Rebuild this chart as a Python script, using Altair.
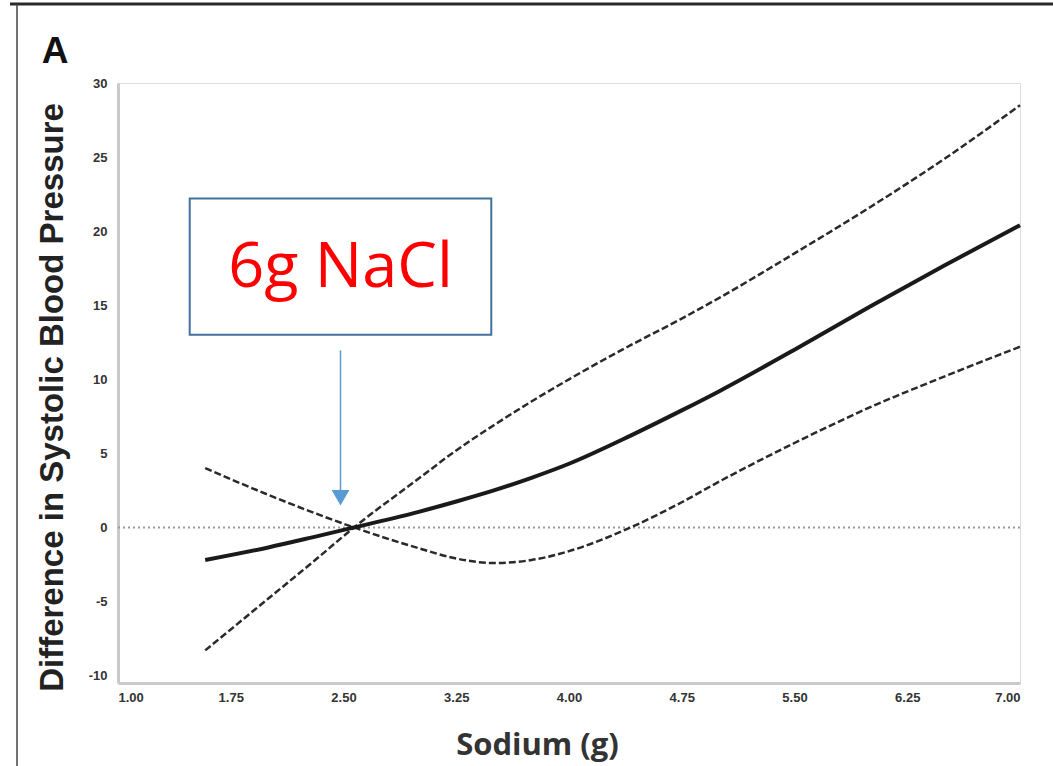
import altair as alt
import pandas as pd

# ---- data ----
sodium = [1.58, 2.0, 2.3, 2.57, 3.0, 3.25, 3.5, 3.75, 4.0, 4.41, 4.75, 5.0, 5.5, 6.0, 6.5, 7.0]
estimate = [-2.2, -1.35, -0.65, 0.0, 1.05, 1.75, 2.5, 3.35, 4.3, 6.2, 7.9, 9.2, 12.0, 14.9, 17.7, 20.4]
upper_ci = [-8.3, -4.8, -2.3, 0.0, 3.3, 5.2, 6.9, 8.5, 10.0, 12.3, 14.1, 15.5, 18.5, 21.6, 24.9, 28.5]
lower_ci = [4.0, 2.2, 1.0, 0.0, -1.4, -2.1, -2.4, -2.2, -1.6, 0.0, 1.7, 3.1, 5.7, 8.1, 10.2, 12.2]

x_ticks = [1.00, 1.75, 2.50, 3.25, 4.00, 4.75, 5.50, 6.25, 7.00]
y_ticks = [-10, -5, 0, 5, 10, 15, 20, 25, 30]

annot_text = "6g NaCl"
annot_box = {"x": 1.477, "x2": 3.483, "y": 22.2, "y2": 13.0}
annot_text_pos = {"x": 2.48, "y": 17.5}
arrow = {"x": 2.48, "y": 11.95, "y2": 2.4, "head": 2.0}

W, H = 902, 600

df = pd.DataFrame({"sodium": sodium, "est": estimate, "up": upper_ci, "lo": lower_ci})

xscale = alt.Scale(domain=[1, 7], nice=False, zero=False)
yscale = alt.Scale(domain=[-10.5, 30], nice=False, zero=False)

xaxis = alt.Axis(values=x_ticks, format=".2f", ticks=False, grid=False,
                 domainColor="#c9c9c9", domainWidth=3,
                 labelFont="Liberation Sans", labelFontWeight="bold", labelFontSize=13,
                 labelColor="#333333", labelPadding=8,
                 title="Sodium (g)", titleFont="Open Sans", titleFontWeight="bold",
                 titleFontSize=31, titleColor="#333333", titleX=419, titleY=62,
                 titleBaseline="middle", titleAlign="center")
yaxis = alt.Axis(values=y_ticks, ticks=False, grid=False,
                 domainColor="#c9c9c9", domainWidth=3,
                 labelFont="Liberation Sans", labelFontWeight="bold", labelFontSize=13,
                 labelColor="#333333", labelPadding=11, labelExpr="'' + datum.value",
                 title="Difference in Systolic Blood Pressure", titleFont="Liberation Sans",
                 titleFontWeight="bold", titleFontSize=33, titleColor="#222222",
                 titleX=-66, titleY=314, titleBaseline="middle", titleAlign="center",
                 titleAngle=-90)

base = alt.Chart(df)

zero_line = alt.Chart(pd.DataFrame({"x": [1.0], "x2": [7.0], "y": [0]})).mark_rule(
    color="#9a9a9a", strokeWidth=2, strokeDash=[2, 3]
).encode(
    x=alt.X("x:Q", scale=xscale, axis=xaxis),
    x2="x2:Q",
    y=alt.Y("y:Q", scale=yscale, axis=yaxis),
)

est_line = base.mark_line(color="#1a1a1a", strokeWidth=4, interpolate="monotone").encode(
    x=alt.X("sodium:Q", scale=xscale), y=alt.Y("est:Q", scale=yscale))
up_line = base.mark_line(color="#2a2a2a", strokeWidth=2.5, strokeDash=[7, 3],
                         interpolate="monotone").encode(
    x=alt.X("sodium:Q", scale=xscale), y=alt.Y("up:Q", scale=yscale))
lo_line = base.mark_line(color="#2a2a2a", strokeWidth=2.5, strokeDash=[7, 3],
                         interpolate="monotone").encode(
    x=alt.X("sodium:Q", scale=xscale), y=alt.Y("lo:Q", scale=yscale))

box = alt.Chart(pd.DataFrame([annot_box])).mark_rect(
    fill="white", stroke="#41719C", strokeWidth=2
).encode(x=alt.X("x:Q", scale=xscale), x2="x2:Q",
         y=alt.Y("y:Q", scale=yscale), y2="y2:Q")

box_text = alt.Chart(pd.DataFrame([{"x": annot_text_pos["x"], "y": annot_text_pos["y"], "t": annot_text}])).mark_text(
    color="#FF0000", font="Open Sans", fontSize=63, align="center", baseline="middle"
).encode(x=alt.X("x:Q", scale=xscale), y=alt.Y("y:Q", scale=yscale), text="t:N")

arrow_line = alt.Chart(pd.DataFrame([{"x": arrow["x"], "y": arrow["y"], "y2": arrow["y2"]}])).mark_rule(
    color="#5B9BD5", strokeWidth=1.5
).encode(x=alt.X("x:Q", scale=xscale), y=alt.Y("y:Q", scale=yscale), y2="y2:Q")

arrow_head = alt.Chart(pd.DataFrame([{"x": arrow["x"], "y": arrow["head"]}])).mark_point(
    shape="triangle-down", filled=True, color="#5B9BD5", size=320, opacity=1
).encode(x=alt.X("x:Q", scale=xscale), y=alt.Y("y:Q", scale=yscale))

panel_label = alt.Chart(pd.DataFrame([{"t": "A"}])).mark_text(
    font="Liberation Sans", fontWeight="bold", fontSize=37, color="#111111",
    align="center", baseline="middle"
).encode(x=alt.value(-63), y=alt.value(-31), text="t:N")

frame_top = alt.Chart(pd.DataFrame([{"a": 0}])).mark_rule(color="#2a2a2a", strokeWidth=3).encode(
    x=alt.value(-108), x2=alt.value(935), y=alt.value(-79))
frame_left = alt.Chart(pd.DataFrame([{"a": 0}])).mark_rule(color="#444444", strokeWidth=1.5).encode(
    x=alt.value(-101), y=alt.value(-79), y2=alt.value(683))

chart = alt.layer(
    zero_line, lo_line, up_line, est_line, box, box_text, arrow_line, arrow_head,
    panel_label, frame_top, frame_left
).properties(
    width=W, height=H,
    autosize=alt.AutoSizeParams(type="none"),
    padding={"left": 118, "top": 83, "right": 33, "bottom": 83},
).configure_view(stroke=None).configure(background="white")

chart.save("out.html", embed_options={"renderer": "svg", "actions": False})
